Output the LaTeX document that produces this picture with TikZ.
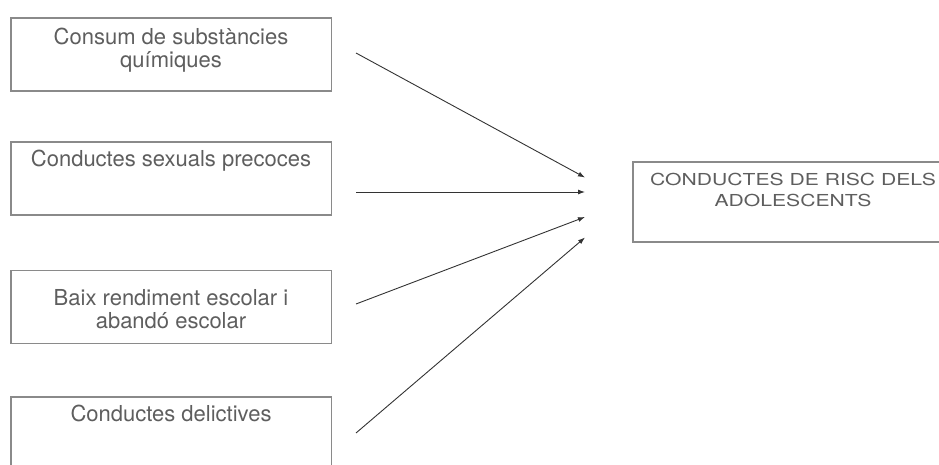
\documentclass[tikz,border=0pt]{standalone}
\usepackage{fontspec}
\setmainfont{TeX Gyre Heros}
\newfontfamily\widefont[FakeStretch=1.28]{TeX Gyre Heros}
\usetikzlibrary{arrows.meta}
\definecolor{txtgray}{HTML}{5E5E5E}
\definecolor{boxgray}{HTML}{8A8A8A}
\definecolor{arrgray}{HTML}{333333}
\tikzset{
  box/.style={draw=boxgray, line width=1.4pt, minimum width=320.7pt, minimum height=73pt, inner sep=0pt},
  bigbox/.style={draw=boxgray, line width=1.4pt, minimum width=320pt, minimum height=80pt, inner sep=0pt},
  lbl/.style={text=txtgray, inner sep=0pt, align=center, anchor=base, font={\fontsize{22}{23}\selectfont}},
  rlbl/.style={text=txtgray, inner sep=0pt, align=center, anchor=base, font={\widefont\fontsize{16.5}{20.7}\selectfont}},
  arr/.style={draw=arrgray, line width=0.9pt, -{Latex[length=7pt,width=5pt]}}
}
\begin{document}
\begin{tikzpicture}[x=1pt,y=-1pt]
\useasboundingbox (0,0) rectangle (939,465);
\clip (0,0) rectangle (939,465);
% boxes
\node[box] (b1) at (171.3,54.7) {};
\node[box] (b2) at (171.3,178.5) {};
\node[box] (b3) at (171.3,306.7) {};
\node[box] (b4) at (171.3,433.5) {};
\node[bigbox] (r) at (793,202) {};
% texts (base anchor = last line baseline)
\node[lbl] (t1) at (171,68) {Consum de substàncies\\químiques};
\node[lbl] (t2) at (171,166.7) {Conductes sexuals precoces};
\node[lbl] (t3) at (171,328.5) {Baix rendiment escolar i\\abandó escolar};
\node[lbl] (t4) at (171,421) {Conductes delictives};
\node[rlbl] (tr) at (793,206.7) {CONDUCTES DE RISC DELS\\ADOLESCENTS};
% arrow ends
\coordinate (s1) at (356,53);
\coordinate (e1) at (585,177.5);
\coordinate (s2) at (356,192);
\coordinate (e2) at (585,192);
\coordinate (s3) at (356,304);
\coordinate (e3) at (585,217);
\coordinate (s4) at (356,433);
\coordinate (e4) at (585,237.5);
\draw[arr] (s1) -- (e1);
\draw[arr] (s2) -- (e2);
\draw[arr] (s3) -- (e3);
\draw[arr] (s4) -- (e4);
\end{tikzpicture}
\end{document}
